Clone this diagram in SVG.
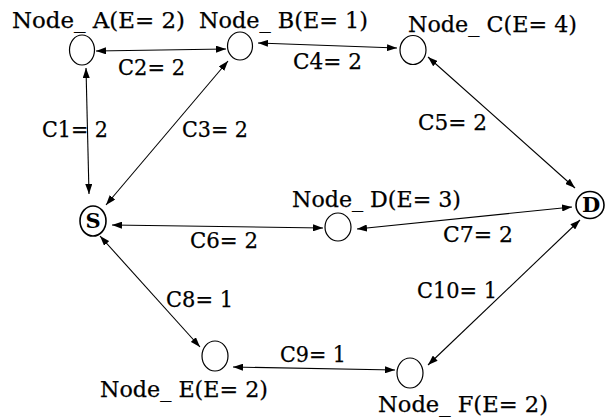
<svg xmlns="http://www.w3.org/2000/svg" width="611" height="419" viewBox="0 0 611 419">
<style>
.n{fill:none;stroke:#000;stroke-width:1.2}
.t{font-family:"DejaVu Serif","Liberation Serif",serif;font-size:22px;fill:#000;stroke:#000;stroke-width:0.25}
.b{font-family:"DejaVu Serif","Liberation Serif",serif;font-size:21px;font-weight:bold;fill:#000}
.e{fill:none;stroke:#000;stroke-width:1.1;marker-start:url(#ah);marker-end:url(#ah)}
</style>
<defs>
<marker id="ah" markerUnits="userSpaceOnUse" markerWidth="10" markerHeight="7" refX="10" refY="3.5" orient="auto-start-reverse">
<path d="M0,0 L10,3.5 L0,7 z" fill="#000"/>
</marker>
</defs>
<rect width="611" height="419" fill="#fff"/>
<g id="connectors">
<line class="e" x1="96" y1="51" x2="226" y2="49"/>
<line class="e" x1="258" y1="43" x2="397" y2="48"/>
<line class="e" x1="86" y1="68" x2="89" y2="194"/>
<line class="e" x1="228" y1="61" x2="106" y2="205"/>
<line class="e" x1="428" y1="57" x2="575" y2="188"/>
<line class="e" x1="112" y1="225" x2="323" y2="228"/>
<line class="e" x1="357" y1="229" x2="572" y2="207"/>
<line class="e" x1="100" y1="236" x2="200" y2="347"/>
<line class="e" x1="233" y1="367" x2="395" y2="370"/>
<line class="e" x1="580" y1="220" x2="428" y2="365"/>
</g>
<g id="edge-labels">
<text class="t" x="118" y="75" textLength="67" lengthAdjust="spacingAndGlyphs">C2= 2</text>
<text class="t" x="293" y="69" textLength="69" lengthAdjust="spacingAndGlyphs">C4= 2</text>
<text class="t" x="42" y="137" textLength="66" lengthAdjust="spacingAndGlyphs">C1= 2</text>
<text class="t" x="182" y="137" textLength="66" lengthAdjust="spacingAndGlyphs">C3= 2</text>
<text class="t" x="418" y="130" textLength="69" lengthAdjust="spacingAndGlyphs">C5= 2</text>
<text class="t" x="190" y="248" textLength="68" lengthAdjust="spacingAndGlyphs">C6= 2</text>
<text class="t" x="443" y="242" textLength="70" lengthAdjust="spacingAndGlyphs">C7= 2</text>
<text class="t" x="166" y="307" textLength="67" lengthAdjust="spacingAndGlyphs">C8= 1</text>
<text class="t" x="280" y="362" textLength="66" lengthAdjust="spacingAndGlyphs">C9= 1</text>
<text class="t" x="417" y="298" textLength="80" lengthAdjust="spacingAndGlyphs">C10= 1</text>
</g>
<g id="node-A">
<ellipse class="n" cx="82" cy="50" rx="12.5" ry="15"/>
<text class="t" x="12" y="28" textLength="173" lengthAdjust="spacingAndGlyphs">Node_ A(E= 2)</text>
</g>
<g id="node-B">
<ellipse class="n" cx="240" cy="46" rx="12.5" ry="14"/>
<text class="t" x="199" y="28" textLength="169" lengthAdjust="spacingAndGlyphs">Node_ B(E= 1)</text>
</g>
<g id="node-C">
<ellipse class="n" cx="413" cy="50" rx="13" ry="14.5"/>
<text class="t" x="408" y="32" textLength="169" lengthAdjust="spacingAndGlyphs">Node_ C(E= 4)</text>
</g>
<g id="node-D">
<ellipse class="n" cx="338" cy="227" rx="13" ry="14"/>
<text class="t" x="292" y="207" textLength="169" lengthAdjust="spacingAndGlyphs">Node_ D(E= 3)</text>
</g>
<g id="node-E">
<ellipse class="n" cx="215" cy="356" rx="13" ry="15"/>
<text class="t" x="100" y="397" textLength="168" lengthAdjust="spacingAndGlyphs">Node_ E(E= 2)</text>
</g>
<g id="node-F">
<ellipse class="n" cx="410" cy="373" rx="13" ry="15"/>
<text class="t" x="378" y="412" textLength="170" lengthAdjust="spacingAndGlyphs">Node_ F(E= 2)</text>
</g>
<g id="node-S">
<ellipse class="n" cx="93" cy="221" rx="13" ry="15" style="stroke-width:1.6"/>
<text class="b" x="93" y="228" text-anchor="middle">S</text>
</g>
<g id="node-Dest">
<ellipse class="n" cx="590" cy="205" rx="14" ry="13.5" style="stroke-width:1.6"/>
<text class="b" x="591" y="212" text-anchor="middle">D</text>
</g>
</svg>
